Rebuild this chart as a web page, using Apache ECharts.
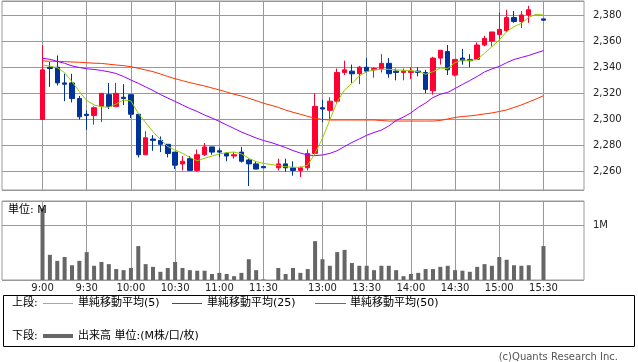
<!DOCTYPE html>
<html><head><meta charset="utf-8">
<script src="https://cdn.jsdelivr.net/npm/echarts@6/dist/echarts.min.js"></script>
<style>html,body{margin:0;padding:0;background:#fff}#c{width:638px;height:362px}</style>
</head><body><div id="c"></div>
<script>
// 5-minute bars, 9:00 .. 15:30 (lunch gap slot after 11:30, 15:25 has no trade)
const times = ['9:00','9:05','9:10','9:15','9:20','9:25','9:30','9:35','9:40','9:45',
  '9:50','9:55','10:00','10:05','10:10','10:15','10:20','10:25','10:30','10:35',
  '10:40','10:45','10:50','10:55','11:00','11:05','11:10','11:15','11:20','11:25',
  '11:30',' ','12:30','12:35','12:40','12:45','12:50','12:55','13:00','13:05',
  '13:10','13:15','13:20','13:25','13:30','13:35','13:40','13:45','13:50','13:55',
  '14:00','14:05','14:10','14:15','14:20','14:25','14:30','14:35','14:40','14:45',
  '14:50','14:55','15:00','15:05','15:10','15:15','15:20','15:25','15:30'];
const tickLabels = ['9:00','9:30','10:00','10:30','11:00','11:30','13:00','13:30','14:00','14:30','15:00','15:30'];

const openP = [2300,2340,2340,2328,2328,2316,2304,2303,2310,2319,
  2310,2317,2319,2304,2273,2285,2284,2281,2275,2266,
  2270,2261,2273,2279,2276,2274,2272,2275,2269,2266,
  2264,null,2263,2266,2263,2261,2263,2274,2309,2307,
  2314,2336,2337,2335,2340,2338,2339,2343,2337,2336,
  2336,2337,2336,2322,2347,2352,2334,2347,2346,2346,
  2357,2360,2365,2368,2378,2375,2380,null,2377];
const closeP = [2338,2339,2328,2327,2316,2302,2303,2309,2320,2310,
  2320,2316,2304,2273,2286,2284,2281,2274,2265,2268,
  2261,2273,2279,2275,2275,2272,2273,2268,2266,2262,
  2263,null,2266,2263,2261,2263,2274,2310,2308,2314,
  2336,2338,2335,2340,2337,2339,2343,2335,2336,2337,
  2337,2336,2323,2347,2353,2338,2346,2345,2345,2357,
  2362,2367,2369,2378,2375,2380,2384,null,2376];
const lowP = [2300,2325,2326,2314,2313,2300,2292,2296,2298,2308,
  2310,2311,2301,2271,2273,2276,2275,2271,2262,2261,
  2261,2260,2272,2273,2271,2268,2270,2267,2249,2262,
  2263,null,2261,2260,2257,2256,2261,2273,2298,2300,
  2312,2334,2328,2327,2336,2332,2336,2332,2330,2330,
  2331,2333,2320,2319,2342,2334,2333,2342,2340,2346,
  2356,2356,2361,2367,2374,2370,2374,null,2376];
const highP = [2357,2344,2349,2335,2335,2318,2307,2310,2320,2328,
  2328,2327,2319,2304,2291,2288,2287,2281,2275,2272,
  2272,2277,2282,2279,2278,2275,2275,2279,2270,2268,
  2264,null,2270,2270,2268,2264,2277,2320,2315,2317,
  2339,2345,2342,2341,2347,2340,2350,2347,2339,2339,
  2340,2340,2338,2348,2353,2357,2346,2354,2350,2359,
  2364,2367,2382,2384,2383,2383,2387,null,2377];
const volume = [1.31,0.46,0.35,0.42,0.27,0.35,0.51,0.26,0.33,0.29,
  0.20,0.18,0.22,0.62,0.29,0.24,0.15,0.22,0.33,0.22,
  0.18,0.17,0.17,0.11,0.13,0.11,0.07,0.13,0.38,0.18,
  0.01,null,0.22,0.11,0.22,0.13,0.20,0.71,0.38,0.26,
  0.51,0.55,0.31,0.26,0.26,0.18,0.26,0.26,0.18,0.07,
  0.11,0.13,0.20,0.20,0.24,0.26,0.18,0.17,0.15,0.24,
  0.29,0.26,0.42,0.37,0.27,0.26,0.27,null,0.62];
const ma5 = [2341.7,2340.9,2339.6,2335.8,2328.9,2321.4,2314.5,2311.1,2309.8,2309.3,
  2311.9,2314.9,2314.2,2304.7,2297.5,2290.6,2284.8,2279.2,2276.6,2274.1,
  2271.0,2268.4,2270.3,2272.0,2273.6,2274.6,2275.1,2273.6,2270.3,2267.7,
  2266.4,2265.5,2264.8,2263.9,2263.4,2263.4,2265.1,2274.1,2285.6,2299.6,
  2313.6,2322.6,2327.5,2333.3,2336.6,2337.9,2338.4,2338.4,2337.9,2337.7,
  2337.4,2336.6,2334.6,2336.6,2339.4,2339.0,2343.6,2345.5,2345.2,2345.9,
  2350.7,2355.7,2360.9,2367.2,2371.0,2373.6,2378.2,2380.5,2380.0];
const ma25 = [2346.8,2346.1,2344.5,2343.0,2341.0,2339.8,2338.8,2338.3,2337.5,2336.5,
  2335.2,2332.9,2330.2,2327.7,2324.9,2322.2,2319.1,2316.4,2313.8,2311.1,
  2308.4,2306.1,2303.4,2301.1,2298.5,2295.8,2293.1,2290.4,2288.1,2285.8,
  2283.9,2282.4,2280.5,2278.5,2276.2,2274.3,2272.8,2272.3,2272.8,2274.0,
  2276.1,2279.3,2282.4,2285.1,2287.9,2290.0,2291.9,2295.0,2299.2,2301.9,
  2305.0,2309.2,2312.6,2316.8,2319.3,2320.7,2323.7,2326.8,2329.8,2332.9,
  2336.4,2338.7,2340.6,2343.5,2345.9,2347.5,2349.0,2350.9,2352.7];
const ma50 = [2344.8,2344.6,2344.5,2344.3,2344.0,2343.8,2343.4,2343.1,2342.9,2342.3,
  2341.7,2341.2,2340.4,2339.2,2337.9,2336.6,2334.8,2332.9,2331.2,2329.7,
  2328.2,2326.9,2325.6,2324.1,2322.6,2321.0,2319.3,2318.0,2316.2,2314.4,
  2312.4,2310.9,2309.3,2307.2,2305.5,2304.0,2302.4,2300.9,2300.0,2299.6,
  2299.6,2299.6,2299.6,2299.6,2299.6,2299.6,2299.2,2298.8,2298.8,2298.8,
  2298.8,2298.8,2298.8,2298.8,2299.2,2300.4,2301.5,2302.3,2302.7,2303.4,
  2304.2,2305.0,2306.1,2307.3,2309.2,2311.1,2313.4,2315.7,2318.2];

const PAD = 5;
const padL = [], padR = [];
for (let k = 0; k < PAD; k++) { padL.push('L' + k); padR.push('R' + k); }
const cats = padL.concat(times, padR);
const blanks = Array(PAD).fill('-');
const padArr = a => blanks.concat(a.map(v => v == null ? '-' : v), blanks);
const candles = blanks.map(() => ['-','-','-','-']).concat(
  times.map((t, i) => openP[i] == null ? ['-','-','-','-'] : [openP[i], closeP[i], lowP[i], highP[i]]),
  blanks.map(() => ['-','-','-','-']));

const tickSet = new Set(tickLabels);
const tickFn = (idx, val) => tickSet.has(val);
const FONT = '"DejaVu Sans","Noto Sans CJK JP",sans-serif';
const GRID = '#999999';

const xBase = (gi, showLabel) => ({
  type: 'category', gridIndex: gi, data: cats, boundaryGap: true,
  axisLine: {show: false}, axisTick: {show: false},
  axisLabel: {show: showLabel, interval: tickFn, margin: 3, fontSize: 10, fontFamily: FONT, color: '#222'},
  splitLine: {show: true, interval: tickFn, alignWithLabel: true, lineStyle: {color: GRID, width: 1}}
});

const chart = echarts.init(document.getElementById('c'), null, {renderer: 'canvas'});
chart.setOption({
  animation: false,
  backgroundColor: '#ffffff',
  grid: [
    {left: 2, top: 1, width: 582, height: 189, show: true, borderColor: GRID, borderWidth: 1, containLabel: false},
    {left: 2, top: 201, width: 582, height: 79, show: true, borderColor: GRID, borderWidth: 1, containLabel: false}
  ],
  xAxis: [xBase(0, false), xBase(1, true)],
  yAxis: [
    {type: 'value', gridIndex: 0, position: 'right', min: 2246, max: 2390.7, splitNumber: 7, scale: true,
     axisLine: {show: false}, axisTick: {show: false},
     axisLabel: {margin: 9, fontSize: 10, fontFamily: FONT, color: '#222',
       formatter: v => Math.abs(v % 20) < 1e-6 ? v.toLocaleString('en-US') : ''},
     splitLine: {show: true, lineStyle: {color: GRID, width: 1}}},
    {type: 'value', gridIndex: 1, position: 'right', min: 0, max: 1.444, interval: 1,
     axisLine: {show: false}, axisTick: {show: false},
     axisLabel: {margin: 9, fontSize: 10, fontFamily: FONT, color: '#222',
       formatter: v => v === 1 ? '1M' : ''},
     splitLine: {show: true, lineStyle: {color: GRID, width: 1}}}
  ],
  series: [
    {type: 'candlestick', xAxisIndex: 0, yAxisIndex: 0, data: candles, barWidth: 5,
     itemStyle: {color: '#ff0033', color0: '#003399', borderColor: '#ff0033', borderColor0: '#003399', borderWidth: 1}},
    {type: 'line', xAxisIndex: 0, yAxisIndex: 0, data: padArr(ma50), symbol: 'none', silent: true,
     lineStyle: {color: '#ff3300', width: 1}},
    {type: 'line', xAxisIndex: 0, yAxisIndex: 0, data: padArr(ma25), symbol: 'none', silent: true,
     lineStyle: {color: '#9900ff', width: 1}},
    {type: 'line', xAxisIndex: 0, yAxisIndex: 0, data: padArr(ma5), symbol: 'none', silent: true,
     lineStyle: {color: '#99cc00', width: 1}},
    {type: 'bar', xAxisIndex: 1, yAxisIndex: 1, data: padArr(volume), barWidth: 4,
     itemStyle: {color: '#666666'}}
  ],
  graphic: [
    {type: 'text', x: 8, y: 210, z: 100, style: {text: '単位: M', font: '11px ' + FONT, fill: '#000', verticalAlign: 'middle', textVerticalAlign: 'middle'}},
    {type: 'rect', shape: {x: 3.5, y: 295.5, width: 631, height: 51}, style: {fill: 'none', stroke: '#000', lineWidth: 1}},
    {type: 'text', x: 12, y: 303, style: {text: '上段:', font: '11px ' + FONT, fill: '#000', verticalAlign: 'middle', textVerticalAlign: 'middle'}},
    {type: 'line', shape: {x1: 43, y1: 303.5, x2: 73, y2: 303.5}, style: {stroke: '#99cc00', lineWidth: 1}},
    {type: 'text', x: 78, y: 303, style: {text: '単純移動平均(5)', font: '11px ' + FONT, fill: '#000', verticalAlign: 'middle', textVerticalAlign: 'middle'}},
    {type: 'line', shape: {x1: 172, y1: 303.5, x2: 202, y2: 303.5}, style: {stroke: '#9900ff', lineWidth: 1}},
    {type: 'text', x: 207, y: 303, style: {text: '単純移動平均(25)', font: '11px ' + FONT, fill: '#000', verticalAlign: 'middle', textVerticalAlign: 'middle'}},
    {type: 'line', shape: {x1: 315, y1: 303.5, x2: 346, y2: 303.5}, style: {stroke: '#ff3300', lineWidth: 1}},
    {type: 'text', x: 350, y: 303, style: {text: '単純移動平均(50)', font: '11px ' + FONT, fill: '#000', verticalAlign: 'middle', textVerticalAlign: 'middle'}},
    {type: 'text', x: 12, y: 336, style: {text: '下段:', font: '11px ' + FONT, fill: '#000', verticalAlign: 'middle', textVerticalAlign: 'middle'}},
    {type: 'line', shape: {x1: 43, y1: 336, x2: 73, y2: 336}, style: {stroke: '#666666', lineWidth: 4}},
    {type: 'text', x: 78, y: 336, style: {text: '出来高 単位:(M株/口/枚)', font: '11px ' + FONT, fill: '#000', verticalAlign: 'middle', textVerticalAlign: 'middle'}},
    {type: 'text', x: 618, y: 357, style: {text: '(c)Quants Research Inc.', font: '10px ' + FONT, fill: '#555', align: 'right', textAlign: 'right', verticalAlign: 'middle', textVerticalAlign: 'middle'}}
  ]
});
</script></body></html>
